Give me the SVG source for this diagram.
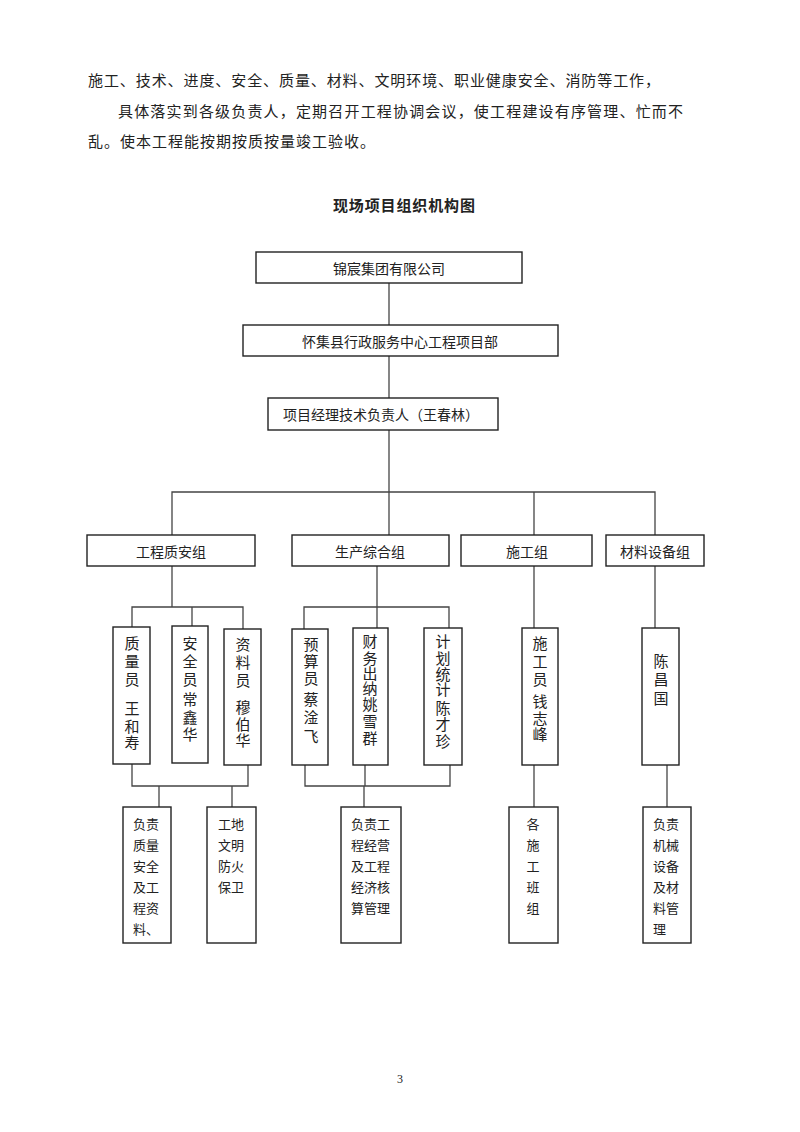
<svg xmlns="http://www.w3.org/2000/svg" width="800" height="1132" viewBox="0 0 800 1132">
<style>
text{font-family:"Noto Sans CJK SC","Noto Sans CJK TC",sans-serif;fill:#222;}
.p{font-size:15px;}
.t{font-size:15px;font-weight:bold;}
.b{font-size:14px;text-anchor:middle;dominant-baseline:central;}
.v{font-size:15px;text-anchor:middle;dominant-baseline:central;}
.s{font-size:13px;dominant-baseline:central;}
.sc{font-size:13px;text-anchor:middle;dominant-baseline:central;}
rect{fill:#fff;stroke:#222;stroke-width:1.4;}
.c line,.c polyline{stroke:#444;stroke-width:1.3;fill:none;}
.pg{font-family:"Liberation Serif",serif;font-size:12px;text-anchor:middle;}
</style>
<rect width="800" height="1132" style="fill:#fff;stroke:none"/>
<text class="p" x="88" y="86" textLength="572" lengthAdjust="spacing">施工、技术、进度、安全、质量、材料、文明环境、职业健康安全、消防等工作，</text>
<text class="p" x="118" y="117" textLength="565" lengthAdjust="spacing">具体落实到各级负责人，定期召开工程协调会议，使工程建设有序管理、忙而不</text>
<text class="p" x="88" y="147" textLength="287" lengthAdjust="spacing">乱。使本工程能按期按质按量竣工验收。</text>
<text class="t" x="404" y="211" text-anchor="middle" textLength="142" lengthAdjust="spacing">现场项目组织机构图</text>

<g class="c" id="connectors">
<line x1="389" y1="283" x2="389" y2="325"/>
<line x1="389" y1="356" x2="389" y2="398"/>
<line x1="389" y1="430" x2="389" y2="535"/>
<polyline points="172,535 172,492 655,492 655,535"/>
<line x1="534" y1="492" x2="534" y2="535"/>
<line x1="172" y1="566" x2="172" y2="607"/>
<polyline points="132,627 132,607 243,607 243,629"/>
<line x1="192" y1="607" x2="192" y2="626"/>
<line x1="377" y1="566" x2="377" y2="628"/>
<polyline points="304,629 304,607 449,607 449,628"/>
<line x1="534" y1="566" x2="534" y2="628"/>
<line x1="655" y1="566" x2="655" y2="628"/>
<polyline points="132,764 132,786 248,786 248,765"/>
<line x1="159" y1="786" x2="159" y2="807"/>
<line x1="232" y1="786" x2="232" y2="807"/>
<polyline points="305,765 305,786 450,786 450,765"/>
<line x1="365" y1="765" x2="365" y2="786"/>
<line x1="364" y1="786" x2="364" y2="807"/>
<line x1="534" y1="765" x2="534" y2="807"/>
<line x1="667" y1="765" x2="667" y2="807"/>
</g>

<g id="n1"><rect x="256" y="252" width="266" height="31"/><text class="b" x="389" y="268">锦宸集团有限公司</text></g>
<g id="n2"><rect x="243" y="325" width="315" height="31"/><text class="b" x="400" y="341" textLength="196" lengthAdjust="spacing">怀集县行政服务中心工程项目部</text></g>
<g id="n3"><rect x="268" y="398" width="230" height="32"/><text class="b" x="381" y="414">项目经理技术负责人（王春林）</text></g>

<g id="g1"><rect x="87" y="535" width="168" height="31"/><text class="b" x="171" y="551">工程质安组</text></g>
<g id="g2"><rect x="292" y="535" width="157" height="31"/><text class="b" x="370" y="551">生产综合组</text></g>
<g id="g3"><rect x="461" y="535" width="131" height="31"/><text class="b" x="527" y="551">施工组</text></g>
<g id="g4"><rect x="606" y="535" width="98" height="31"/><text class="b" x="655" y="551">材料设备组</text></g>

<g id="m1"><rect x="113" y="627" width="37" height="137"/><text class="v" x="132 132 132 132 132 132" y="642 660 678 707 725 741">质量员王和寿</text></g>
<g id="m2"><rect x="172" y="626" width="36" height="137"/><text class="v" x="190 190 190 190 190 190" y="642 660 678 698 716 733">安全员常鑫华</text></g>
<g id="m3"><rect x="224" y="629" width="37" height="136"/><text class="v" x="243 243 243 243 243 243" y="643 661 679 706 723 739">资料员穆伯华</text></g>
<g id="m4"><rect x="292" y="629" width="36" height="136"/><text class="v" x="311 311 311 311 311 311" y="643 660 677 698 716 735">预算员蔡淦飞</text></g>
<g id="m5"><rect x="353" y="628" width="35" height="137"/><text class="v" x="370 370 370 370 370 370 370" y="640 657 672 687 703 720 737">财务出纳姚雪群</text></g>
<g id="m6"><rect x="424" y="628" width="38" height="137"/><text class="v" x="443 443 443 443 443 443 443" y="640 657 673 688 707 723 740">计划统计陈才珍</text></g>
<g id="m7"><rect x="522" y="628" width="36" height="137"/><text class="v" x="540 540 540 540 540 540" y="642 660 678 700 717 733">施工员钱志峰</text></g>
<g id="m8"><rect x="642" y="628" width="37" height="137"/><text class="v" x="661 661 661" y="660 678 697">陈昌国</text></g>

<g id="d1"><rect x="123" y="807" width="48" height="136"/>
<text class="s" x="133" y="823">负责</text><text class="s" x="133" y="844">质量</text><text class="s" x="133" y="865">安全</text><text class="s" x="133" y="886">及工</text><text class="s" x="133" y="907">程资</text><text class="s" x="133" y="928">料、</text></g>
<g id="d2"><rect x="207" y="807" width="49" height="136"/>
<text class="s" x="218" y="823">工地</text><text class="s" x="218" y="844">文明</text><text class="s" x="218" y="865">防火</text><text class="s" x="218" y="886">保卫</text></g>
<g id="d3"><rect x="341" y="807" width="60" height="136"/>
<text class="s" x="351" y="823">负责工</text><text class="s" x="351" y="844">程经营</text><text class="s" x="351" y="865">及工程</text><text class="s" x="351" y="886">经济核</text><text class="s" x="351" y="907">算管理</text></g>
<g id="d4"><rect x="509" y="807" width="49" height="136"/>
<text class="sc" x="533" y="823">各</text><text class="sc" x="533" y="844">施</text><text class="sc" x="533" y="865">工</text><text class="sc" x="533" y="886">班</text><text class="sc" x="533" y="907">组</text></g>
<g id="d5"><rect x="643" y="807" width="48" height="136"/>
<text class="s" x="653" y="823">负责</text><text class="s" x="653" y="844">机械</text><text class="s" x="653" y="865">设备</text><text class="s" x="653" y="886">及材</text><text class="s" x="653" y="907">料管</text><text class="s" x="653" y="928">理</text></g>

<text class="pg" x="400" y="1083">3</text>
</svg>
